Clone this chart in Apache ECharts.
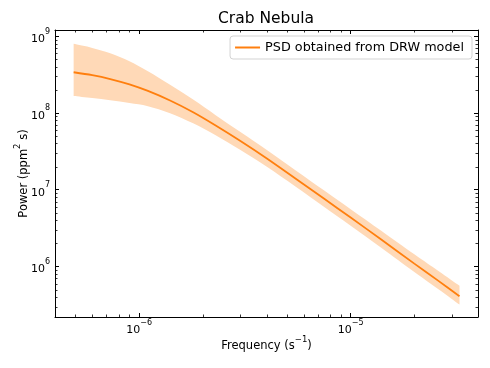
<!DOCTYPE html>
<html>
<head>
<meta charset="utf-8">
<script src="https://cdn.jsdelivr.net/npm/echarts@6/dist/echarts.min.js"></script>
<style>html,body{margin:0;padding:0;background:#fff;}#c{width:490px;height:368px;}</style>
</head>
<body>
<div id="c"></div>
<script>
// Frequencies (s^-1)
const freq = [4.9e-7, 6e-7, 7.3e-7, 9e-7, 1.1e-6, 1.4e-6, 1.8e-6, 2.3e-6, 3e-6, 4e-6, 5.5e-6, 7.5e-6, 1e-5, 1.4e-5, 2e-5, 2.6e-5, 3.27e-5];
// PSD curve (ppm^2 s)
const psd = [3.38e8, 3.10e8, 2.76e8, 2.35e8, 1.93e8, 1.45e8, 1.02e8, 6.86e7, 4.34e7, 2.57e7, 1.39e7, 7.6e6, 4.34e6, 2.23e6, 1.09e6, 6.5e5, 4.1e5];
// Uncertainty band
const psdUpper = [7.92e8, 7.02e8, 5.97e8, 4.69e8, 3.48e8, 2.32e8, 1.49e8, 9.35e7, 5.69e7, 3.31e7, 1.78e7, 9.75e6, 5.58e6, 2.90e6, 1.44e6, 8.71e5, 5.6e5];
const psdLower = [1.66e8, 1.56e8, 1.46e8, 1.34e8, 1.22e8, 9.9e7, 7.31e7, 5.11e7, 3.30e7, 2.0e7, 1.09e7, 5.97e6, 3.40e6, 1.74e6, 8.49e5, 5.07e5, 3.2e5];
// Axis extents
const xRange = [4.0e-7, 4.0e-5];
const yRange = [2.2e5, 1.2e9];
// Minor tick values
const xMinorTicks = [5e-7, 6e-7, 7e-7, 8e-7, 9e-7, 2e-6, 3e-6, 4e-6, 5e-6, 6e-6, 7e-6, 8e-6, 9e-6, 2e-5, 3e-5];
const yMinorTicks = [3e5, 4e5, 5e5, 6e5, 7e5, 8e5, 9e5,
  2e6, 3e6, 4e6, 5e6, 6e6, 7e6, 8e6, 9e6,
  2e7, 3e7, 4e7, 5e7, 6e7, 7e7, 8e7, 9e7,
  2e8, 3e8, 4e8, 5e8, 6e8, 7e8, 8e8, 9e8];

const FONT = 'DejaVu Sans';
const seriesName = 'PSD obtained from DRW model';

function sci(v) {
  const l = Math.log10(v);
  const e = Math.round(l);
  if (Math.abs(l - e) > 1e-6) return '';
  const s = e < 0 ? '\u2212' + (-e) : '' + e;
  return '{b|10}{s|' + s + '}';
}
const labelRich = {
  b: { fontSize: 11, fontFamily: FONT, color: '#000', lineHeight: 17, verticalAlign: 'bottom' },
  s: { fontSize: 8, fontFamily: FONT, color: '#000', lineHeight: 9, verticalAlign: 'top' }
};
const nameRich = {
  n: { fontSize: 11.5, fontFamily: FONT, color: '#000', lineHeight: 17, verticalAlign: 'bottom' },
  s: { fontSize: 8.5, fontFamily: FONT, color: '#000', lineHeight: 9, verticalAlign: 'top' }
};

const chart = echarts.init(document.getElementById('c'), null, { renderer: 'canvas' });

function baseAxis(type, range, pos, showLabel) {
  return {
    type: 'log', logBase: 10, min: range[0], max: range[1], position: pos, z: 20,
    axisLine: { show: true, onZero: false, lineStyle: { color: '#000', width: 1 } },
    axisTick: { show: true, inside: true, length: 4, lineStyle: { color: '#000', width: 1 } },
    axisLabel: showLabel ? { show: true, formatter: sci, rich: labelRich, margin: type === 'x' ? 2 : 5, color: '#000' } : { show: false },
    splitLine: { show: false },
    minorTick: { show: false }
  };
}

const xAxisMain = Object.assign(baseAxis('x', xRange, 'bottom', true), {
  name: '{n|Frequency (s}{s|\u22121}{n|)}',
  nameLocation: 'middle', nameGap: 18, nameMoveOverlap: false,
  nameTextStyle: { fontSize: 11.5, fontFamily: FONT, color: '#000', rich: nameRich }
});
const yAxisMain = Object.assign(baseAxis('y', yRange, 'left', true), {
  name: '{n|Power (ppm}{s|2}{n| s)}',
  nameLocation: 'middle', nameGap: 25, nameRotate: 90, nameMoveOverlap: false,
  nameTextStyle: { fontSize: 11.5, fontFamily: FONT, color: '#000', rich: nameRich }
});

function minorTickSeries(values, isX) {
  return {
    type: 'custom', xAxisIndex: 0, yAxisIndex: 0, silent: true, clip: false, z: 30,
    data: values.map(v => isX ? [v, yRange[0]] : [xRange[0], v]),
    renderItem: function (params, api) {
      const cs = params.coordSys;
      const p = api.coord([api.value(0), api.value(1)]);
      const st = { stroke: '#000', lineWidth: 0.8 };
      const L = 2.5;
      if (isX) {
        const x = Math.round(p[0]) + 0.5;
        return { type: 'group', children: [
          { type: 'line', shape: { x1: x, y1: cs.y + cs.height, x2: x, y2: cs.y + cs.height - L }, style: st },
          { type: 'line', shape: { x1: x, y1: cs.y, x2: x, y2: cs.y + L }, style: st }
        ] };
      } else {
        const y = Math.round(p[1]) + 0.5;
        return { type: 'group', children: [
          { type: 'line', shape: { x1: cs.x, y1: y, x2: cs.x + L, y2: y }, style: st },
          { type: 'line', shape: { x1: cs.x + cs.width, y1: y, x2: cs.x + cs.width - L, y2: y }, style: st }
        ] };
      }
    }
  };
}

// Catmull-Rom smoothed path through pixel points
function crPath(pts, start) {
  let d = start ? 'M' + pts[0][0] + ',' + pts[0][1] : 'L' + pts[0][0] + ',' + pts[0][1];
  const n = pts.length;
  for (let i = 0; i < n - 1; i++) {
    const p0 = pts[Math.max(i - 1, 0)], p1 = pts[i], p2 = pts[i + 1], p3 = pts[Math.min(i + 2, n - 1)];
    const c1 = [p1[0] + (p2[0] - p0[0]) / 6, p1[1] + (p2[1] - p0[1]) / 6];
    const c2 = [p2[0] - (p3[0] - p1[0]) / 6, p2[1] - (p3[1] - p1[1]) / 6];
    d += 'C' + c1[0] + ',' + c1[1] + ',' + c2[0] + ',' + c2[1] + ',' + p2[0] + ',' + p2[1];
  }
  return d;
}

const bandSeries = {
  type: 'custom', xAxisIndex: 0, yAxisIndex: 0, silent: true, z: 1,
  data: [[freq[0], psd[0]]],
  renderItem: function (params, api) {
    const up = freq.map((f, i) => api.coord([f, psdUpper[i]]));
    const lo = freq.map((f, i) => api.coord([f, psdLower[i]])).reverse();
    const d = crPath(up, true) + crPath(lo, false) + 'Z';
    return { type: 'path', shape: { pathData: d }, style: { fill: '#ffd9b7', stroke: null } };
  }
};

const option = {
  animation: false,
  backgroundColor: '#fff',
  textStyle: { fontFamily: FONT },
  title: {
    text: 'Crab Nebula', left: 266, top: 11, textAlign: 'center', padding: 0,
    textStyle: { fontFamily: FONT, fontSize: 15.5, fontWeight: 'normal', color: '#000' }
  },
  legend: {
    data: [{ name: seriesName, icon: 'rect' }], right: 18, top: 36, orient: 'vertical',
    padding: [4, 8, 4, 5], itemWidth: 25, itemHeight: 2, itemGap: 5,
    borderColor: '#d3d3d3', borderWidth: 1, borderRadius: 3, backgroundColor: '#fff',
    textStyle: { fontFamily: FONT, fontSize: 12.8, color: '#000', lineHeight: 15 }
  },
  grid: { left: 55, right: 12, top: 30, bottom: 51, containLabel: false, outerBoundsMode: 'none' },
  xAxis: [xAxisMain, baseAxis('x', xRange, 'top', false)],
  yAxis: [yAxisMain, baseAxis('y', yRange, 'right', false)],
  series: [
    bandSeries,
    {
      name: seriesName, type: 'line', xAxisIndex: 0, yAxisIndex: 0,
      data: freq.map((f, i) => [f, psd[i]]), symbol: 'none', smooth: 0.3,
      lineStyle: { color: '#ff7f0e', width: 1.8 }, itemStyle: { color: '#ff7f0e' }, z: 3
    },
    minorTickSeries(xMinorTicks, true),
    minorTickSeries(yMinorTicks, false)
  ]
};
chart.setOption(option);
</script>
</body>
</html>
